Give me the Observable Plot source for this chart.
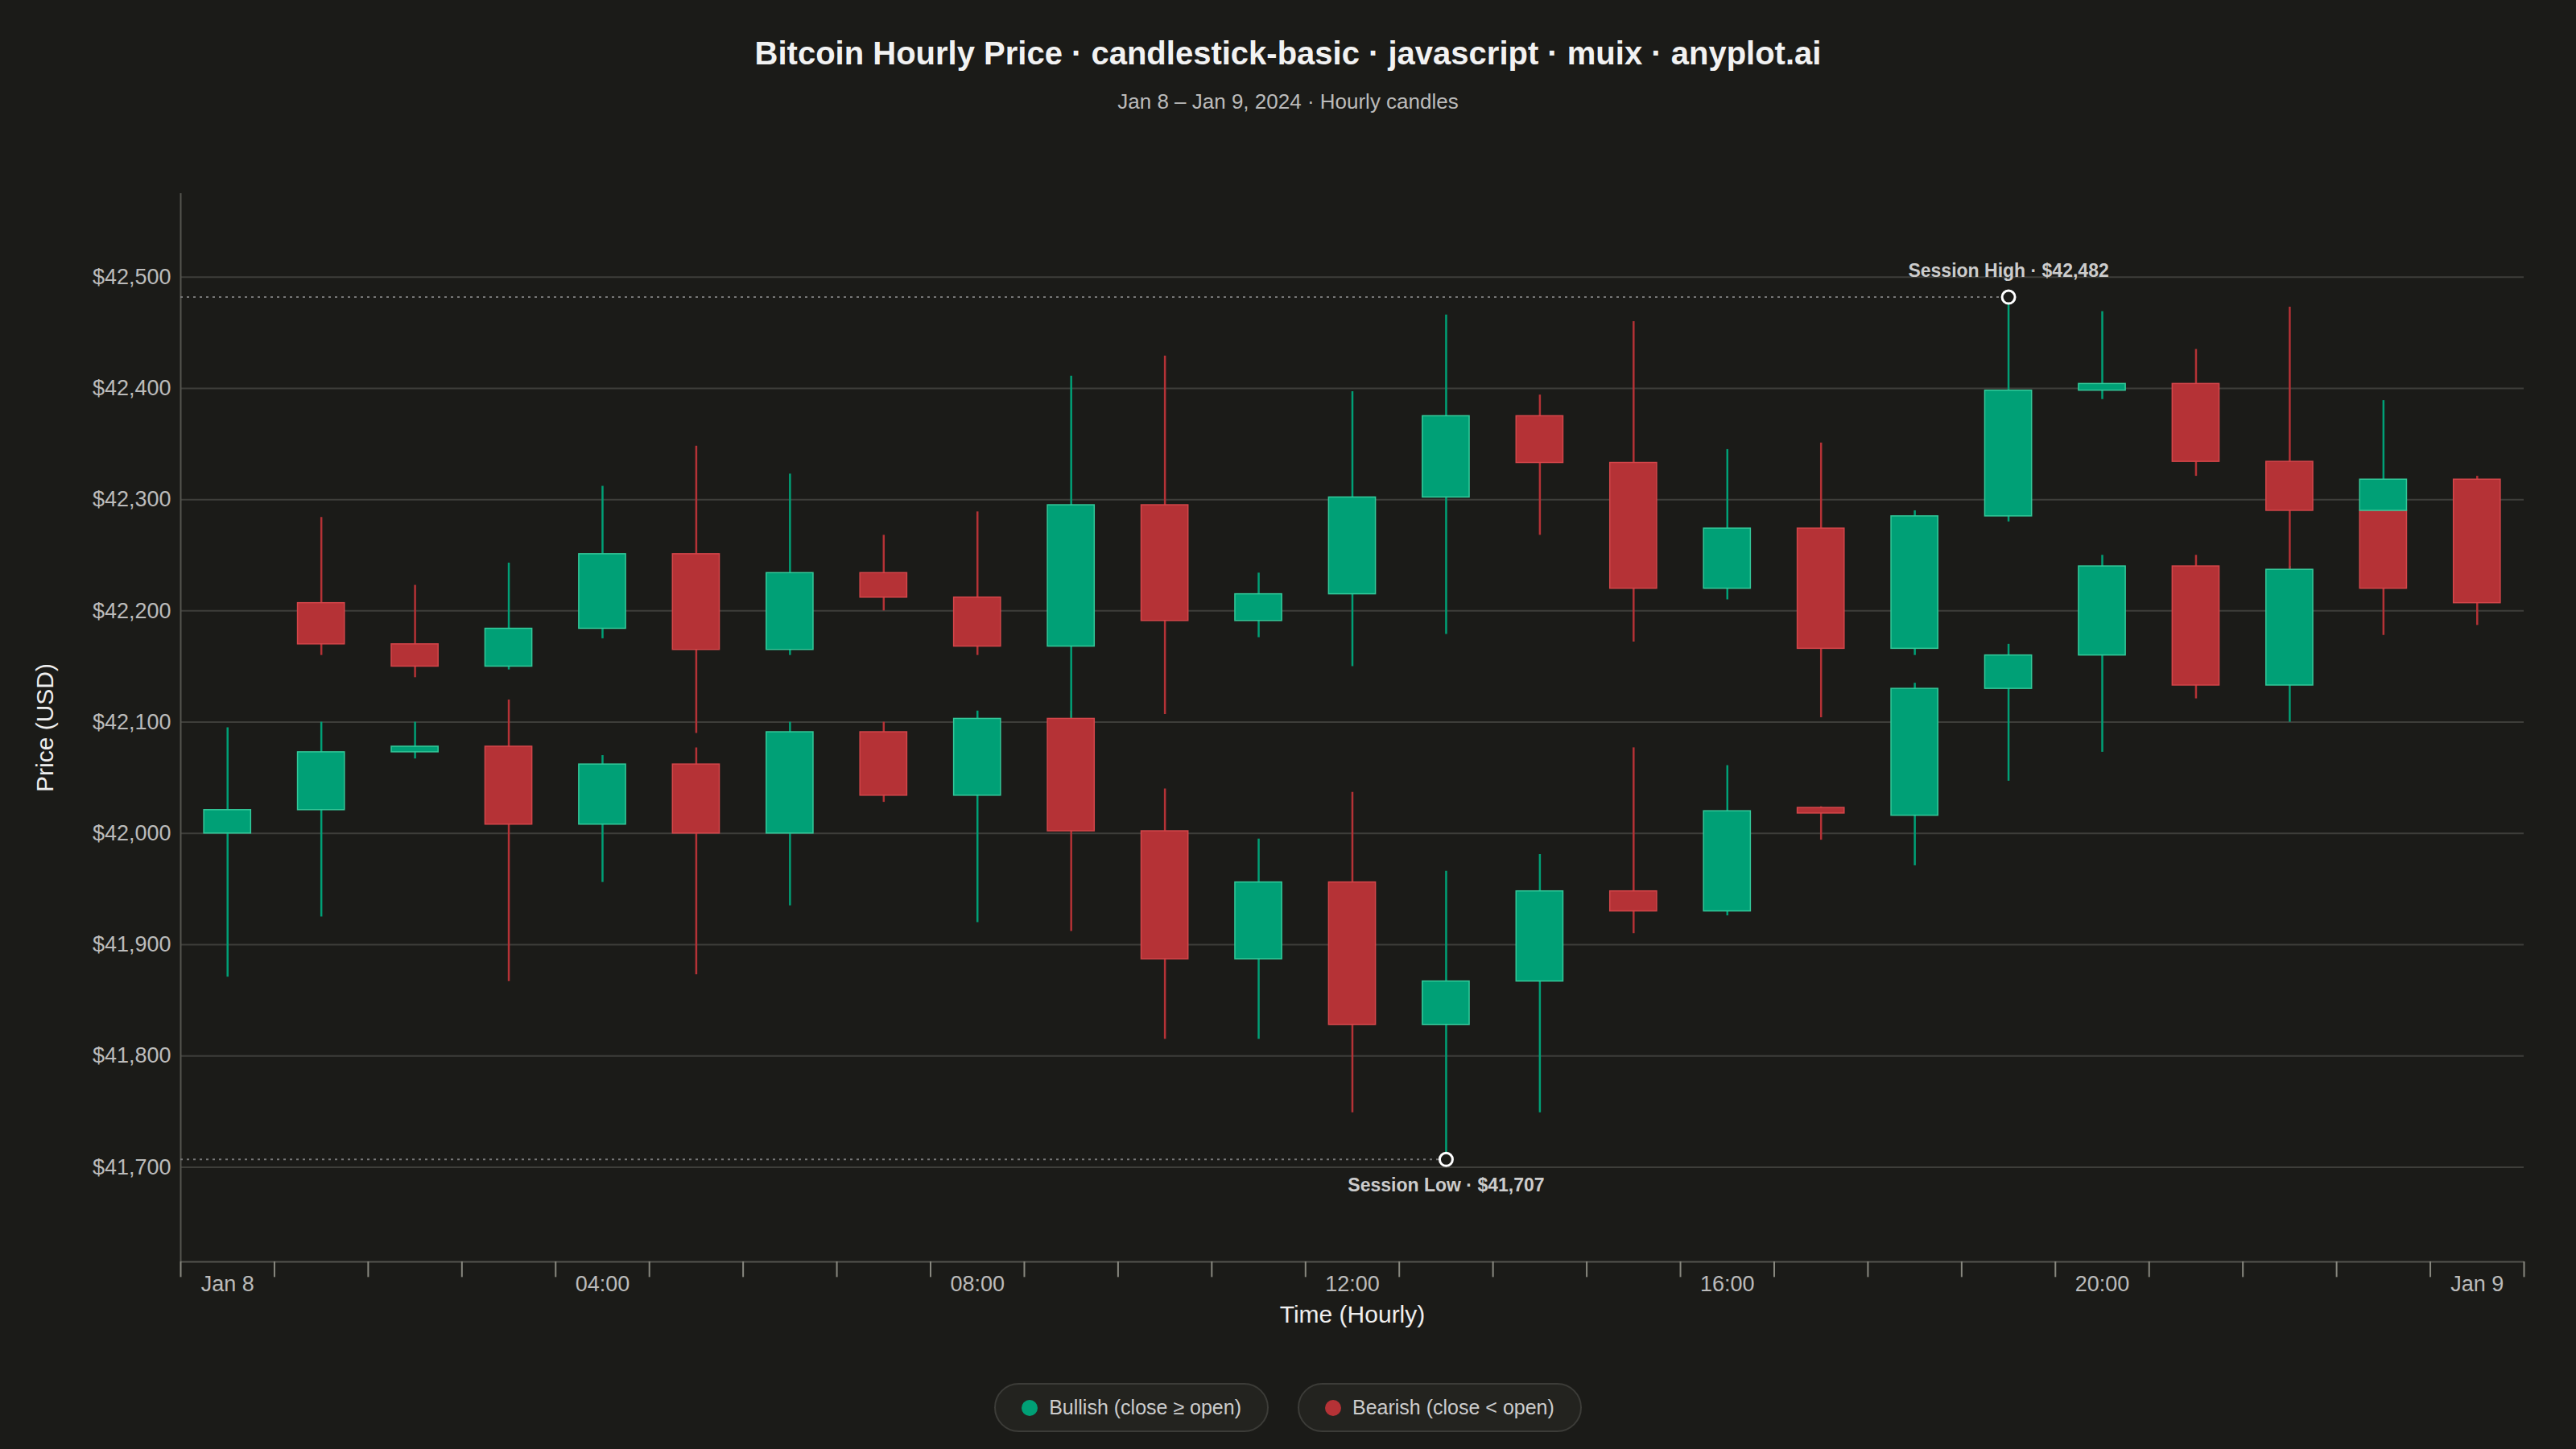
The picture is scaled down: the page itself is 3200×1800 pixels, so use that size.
<!DOCTYPE html>
<html><head><meta charset="utf-8">
<script src="https://cdn.jsdelivr.net/npm/d3@7"></script>
<script src="https://cdn.jsdelivr.net/npm/@observablehq/plot@0.6"></script>
<style>
body{margin:0;background:#1b1b18;width:3200px;height:1800px;font-family:"Liberation Sans",Arial,sans-serif;color:#ddd;}
#head{height:200px;text-align:center;}
#title{padding-top:44px;font-size:40px;font-weight:bold;color:#f2f2f2;}
#sub{margin-top:22px;font-size:26px;color:#bbb;}
#legend{display:flex;justify-content:center;gap:36px;margin-top:38px;}
.it{display:flex;align-items:center;gap:14px;border:2px solid #3c3c38;border-radius:34px;padding:14px 32px;font-size:25px;color:#ccc;background:#23231f;}
.dot{width:20px;height:20px;border-radius:50%;}
</style></head><body>
<div id="head"><div id="title">Bitcoin Hourly Price · candlestick-basic · javascript · muix · anyplot.ai</div>
<div id="sub">Jan 8 – Jan 9, 2024 · Hourly candles</div></div>
<div id="chart"></div>
<div id="legend"><div class="it"><span class="dot" style="background:#00a076"></span>Bullish (close ≥ open)</div><div class="it"><span class="dot" style="background:#b53236"></span>Bearish (close &lt; open)</div></div>
<script>
// series A (lower chain): hour, open, close, high, low
const hoursA=[0,1,2,3,4,5,6,7,8,9,10,11,12,13,14,15,16,17,18,19,20,21,22,23,24];
const openA =[42000,42021,42073,42078,42008,42062,42000,42091,42034,42103,42002,41887,41956,41828,41867,41948,41930,42020,42016,42130,42160,42240,42133,42290,42318];
const closeA=[42021,42073,42078,42008,42062,42000,42091,42034,42103,42002,41887,41956,41828,41867,41948,41930,42020,42018,42130,42160,42240,42133,42237,42220,42207];
const highA =[42095,42100,42100,42120,42070,42077,42100,42100,42110,42110,42040,41995,42037,41966,41981,42077,42061,42024,42135,42170,42250,42250,42240,42300,42321];
const lowA  =[41871,41925,42067,41867,41956,41873,41935,42028,41920,41912,41815,41815,41749,41707,41749,41910,41926,41994,41971,42047,42073,42121,42100,42178,42187];
// series B (upper chain)
const hoursB=[1,2,3,4,5,6,7,8,9,10,11,12,13,14,15,16,17,18,19,20,21,22,23];
const openB =[42207,42170,42150,42184,42251,42165,42234,42212,42168,42295,42191,42215,42302,42375,42333,42220,42274,42166,42285,42398,42404,42334,42290];
const closeB=[42170,42150,42184,42251,42165,42234,42212,42168,42295,42191,42215,42302,42375,42333,42220,42274,42166,42285,42398,42404,42334,42290,42318];
const highB =[42284,42223,42243,42312,42348,42323,42268,42289,42411,42429,42234,42397,42466,42394,42460,42345,42351,42290,42482,42469,42435,42473,42389];
const lowB  =[42160,42140,42147,42175,42090,42160,42200,42160,42085,42107,42176,42150,42179,42268,42172,42210,42104,42160,42280,42390,42321,42200,42280];
const yTicks=[41700,41800,41900,42000,42100,42200,42300,42400,42500];
const xLabelHours=[0,4,8,12,16,20,24];
const xLabels=["Jan 8","04:00","08:00","12:00","16:00","20:00","Jan 9"];

const candles=[
 ...hoursA.map((h,i)=>({h,open:openA[i],close:closeA[i],high:highA[i],low:lowA[i]})),
 ...hoursB.map((h,i)=>({h,open:openB[i],close:closeB[i],high:highB[i],low:lowB[i]}))];
const col=d=>d.close>=d.open?"#00a076":"#b53236";
const tickH=d3.range(-0.5,24.6,1);
const hi={h:19,v:42482}, lo={h:13,v:41707};
const W=3200,H=1480;
const plot=Plot.plot({
 width:W,height:H,marginLeft:224,marginRight:65,marginTop:40,marginBottom:113,
 style:{background:"#1b1b18",color:"#ccc",fontSize:"26px",fontFamily:"Liberation Sans, Arial, sans-serif",overflow:"visible"},
 x:{domain:[-0.5,24.5],axis:null},
 y:{domain:[41615,42575],axis:null},
 marks:[
  Plot.ruleY(yTicks,{stroke:"#3e3e3a",strokeWidth:2}),
  Plot.ruleX([-0.5],{y1:41615,y2:42575,stroke:"#55554f",strokeWidth:2}),
  Plot.ruleY([41615],{x1:-0.5,x2:24.5,stroke:"#55554f",strokeWidth:2}),
  Plot.text(yTicks,{x:-0.5,y:d=>d,text:d=>"$"+d3.format(",")(d),textAnchor:"end",dx:-12,fill:"#bbb",fontSize:27}),
  Plot.ruleX(tickH,{x:d=>d,y1:41615,y2:41601,stroke:"#88887f",strokeWidth:2}),
  Plot.text(xLabelHours,{x:d=>d,y:41615,text:(d,i)=>xLabels[i],dy:28,fill:"#bbb",fontSize:27}),
  Plot.text(["Time (Hourly)"],{x:12,y:41615,dy:66,fill:"#eee",fontSize:30}),
  Plot.text(["Price (USD)"],{x:-0.5,y:(41615+42575)/2,rotate:-90,dx:-168,fill:"#eee",fontSize:30}),
  Plot.ruleY([hi],{x1:-0.5,x2:d=>d.h,y:"v",stroke:"#777",strokeDasharray:"3,5",strokeWidth:2}),
  Plot.ruleY([lo],{x1:-0.5,x2:d=>d.h,y:"v",stroke:"#777",strokeDasharray:"3,5",strokeWidth:2}),
  Plot.ruleX(candles,{x:"h",y1:"low",y2:"high",stroke:col,strokeWidth:2.5}),
  Plot.rect(candles,{x1:d=>d.h-0.25,x2:d=>d.h+0.25,y1:d=>Math.min(d.open,d.close),y2:d=>Math.max(d.open,d.close)+(Math.abs(d.open-d.close)<3?3:0),fill:col,stroke:d=>d.close>=d.open?"#34c99a":"#d4464a",strokeWidth:1.5}),
  Plot.dot([hi,lo],{x:"h",y:"v",r:8,fill:"#1b1b18",stroke:"#fff",strokeWidth:3}),
  Plot.text([hi],{x:"h",y:"v",text:d=>"Session High · $42,482",dy:-32,fill:"#ccc",fontWeight:"bold",fontSize:23}),
  Plot.text([lo],{x:"h",y:"v",text:d=>"Session Low · $41,707",dy:32,fill:"#ccc",fontWeight:"bold",fontSize:23})
 ]});
document.getElementById("chart").append(plot);
</script></body></html>
